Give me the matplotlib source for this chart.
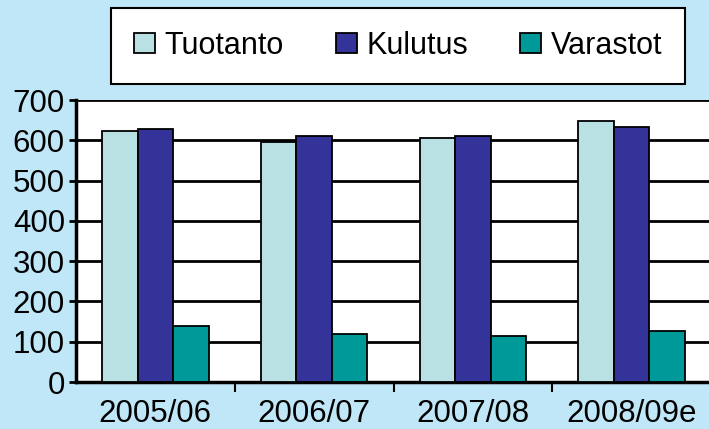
import matplotlib
matplotlib.use("Agg")
import matplotlib.pyplot as plt
import numpy as np

# data
seasons = ["2005/06", "2006/07", "2007/08", "2008/09e"]
tuotanto = [622, 596, 606, 647]
kulutus = [628, 611, 610, 633]
varastot = [138, 120, 113, 127]
series = ["Tuotanto", "Kulutus", "Varastot"]
colors = ["#b9e0e2", "#333399", "#009999"]

plt.rcParams["font.family"] = ["Liberation Sans", "DejaVu Sans"]

W, H = 709, 429
fig = plt.figure(figsize=(W / 100, H / 100), dpi=100)
fig.patch.set_facecolor("#c0e7f7")

# plot area in pixel coords: left 76, right ~711 (runs past the edge), top 100, bottom 382
ax = fig.add_axes([76 / W, (H - 382) / H, (711 - 76) / W, (382 - 100) / H])
ax.set_facecolor("white")

x = np.arange(len(seasons))
bw = 0.224
for i, (vals, lab, col) in enumerate(zip([tuotanto, kulutus, varastot], series, colors)):
    ax.bar(x + (i - 1) * bw, vals, width=bw, color=col, edgecolor="black",
           linewidth=1.3, label=lab, zorder=3)

ax.set_xlim(-0.5, len(seasons) - 0.5)
ax.set_ylim(0, 700)
ax.set_yticks(range(0, 701, 100))
ax.yaxis.grid(True, color="black", linewidth=2, zorder=1)
ax.set_axisbelow(True)

ax.set_xticks(x)
ax.set_xticklabels(seasons)
ax.set_xticks(np.arange(0.5, len(seasons) - 0.5, 1), minor=True)
ax.tick_params(axis="x", which="major", length=0, pad=12, labelsize=22.5)
ax.tick_params(axis="x", which="minor", length=7, width=1.5, direction="out")
ax.tick_params(axis="y", length=5, width=2, pad=3, labelsize=22.5)

for s in ["top", "right"]:
    ax.spines[s].set_visible(False)
ax.spines["left"].set_linewidth(2.5)
ax.spines["bottom"].set_linewidth(2.5)

leg = fig.legend(loc="center", bbox_to_anchor=(398 / W, 1 - 46 / H), ncol=3,
                 fontsize=22, frameon=True, fancybox=False, edgecolor="black",
                 handlelength=0.7, handleheight=0.65, handletextpad=0.3,
                 columnspacing=1.7, borderpad=0.75, borderaxespad=0)
leg.get_frame().set_linewidth(1.5)
leg.get_frame().set_facecolor("white")
leg.get_frame().set_alpha(1)
for p in leg.get_patches():
    p.set_linewidth(1.3)

fig.savefig("out.png", dpi=100, facecolor=fig.get_facecolor())
